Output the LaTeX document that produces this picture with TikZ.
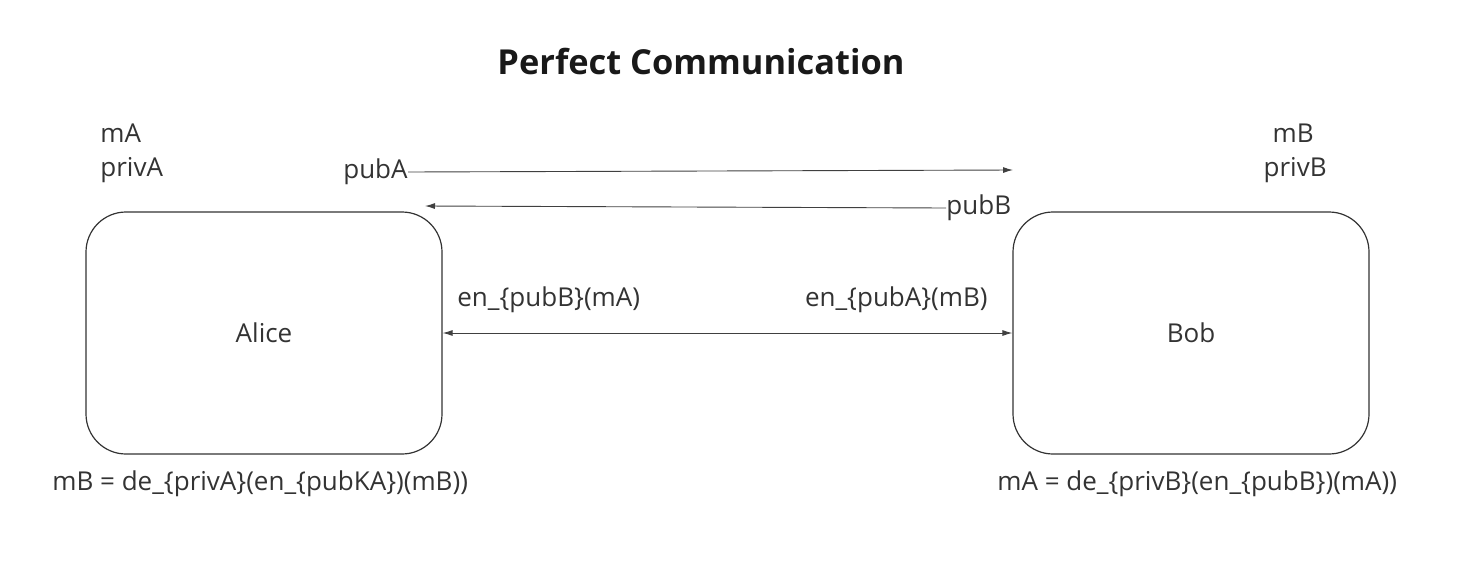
\documentclass[tikz,border=0pt]{standalone}
\usepackage{fontspec}
\setmainfont{Open Sans}
\usetikzlibrary{arrows.meta, positioning}

\begin{document}
\begin{tikzpicture}[x=0.5pt, y=-0.5pt, every node/.style={inner sep=0pt, font=\fontsize{13}{15}\selectfont, text=black!80},
    party/.style={draw=black!80, line width=0.6pt, rounded corners=20pt, minimum width=178pt, minimum height=121pt},
    msg/.style={-{Latex[length=5pt, width=3pt]}, line width=0.45pt, draw=black!75}]
    \useasboundingbox (0,0) rectangle (1471,568);
    % Nodes
    \node[font=\fontsize{17.2}{20}\selectfont\bfseries, text=black!90] (title) at (701,62) {Perfect Communication};
    \node (alice) [party] at (264,333) {Alice};
    \node (bob) [party] at (1191,333) {Bob};
    \node[anchor=west] (mA) at (100,133) {mA};
    \node[anchor=west] (privA) at (100,170) {privA};
    \node[anchor=east] (mB) at (1314,133) {mB};
    \node[anchor=east] (privB) at (1327,170) {privB};
    \node[anchor=east] (pubA) at (408,172) {pubA};
    \node[anchor=west] (pubB) at (946,208) {pubB};
    \coordinate (toB) at (1013,170);
    \coordinate (toA) at (425,206);
    \node[anchor=west] (encA) at (457,300) {en\_\{pubB\}(mA)};
    \node[anchor=east] (encB) at (988,300) {en\_\{pubA\}(mB)};
    \node[anchor=west] (decA) at (52,484) {mB = de\_\{privA\}(en\_\{pubKA\})(mB))};
    \node[anchor=west] (decB) at (997,484) {mA = de\_\{privB\}(en\_\{pubB\})(mA))};

    % Arrows
    \draw[msg] (pubA.east) -- (toB);
    \draw[msg] (pubB.west) -- (toA);
    \draw[msg, {Latex[length=5pt, width=3pt]}-{Latex[length=5pt, width=3pt]}] (alice.east) -- (bob.west);
\end{tikzpicture}
\end{document}
